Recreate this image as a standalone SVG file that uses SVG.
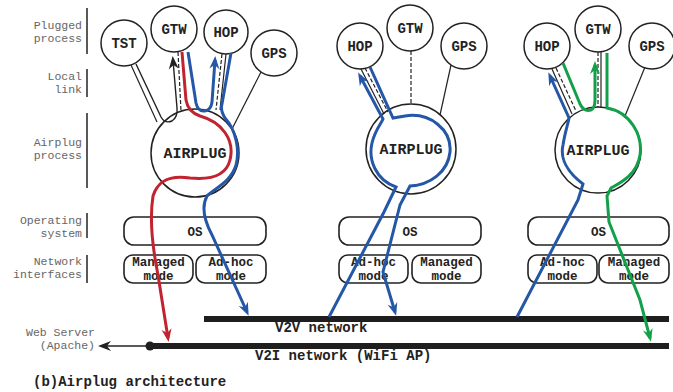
<svg xmlns="http://www.w3.org/2000/svg" width="673" height="392" viewBox="0 0 673 392">
<style>
.lbl{font-family:"Liberation Mono","Courier New",monospace;font-size:11.5px;fill:#666;text-anchor:end}
.bar{stroke:#222;stroke-width:1.5}
.nc{fill:#fff;stroke:#222;stroke-width:1.5}
.nt{font-family:"Liberation Mono","Courier New",monospace;font-size:14px;font-weight:bold;fill:#222;text-anchor:middle}
.ap{font-size:15px}
.box{fill:#fff;stroke:#222;stroke-width:1.6}
.bt{font-family:"Liberation Mono","Courier New",monospace;font-size:12.5px;font-weight:bold;fill:#222;text-anchor:middle}
.lk{stroke:#222;stroke-width:1.2;fill:none}
.dl{stroke:#222;stroke-width:1.2;fill:none;stroke-dasharray:4 2}
.fr{stroke:#c1232f;stroke-width:3;fill:none}
.fb{stroke:#2557a7;stroke-width:3;fill:none}
.fg{stroke:#12a04b;stroke-width:3;fill:none}
.fk{stroke:#222;stroke-width:1.4;fill:none}
.net{fill:#1e1e1e}
.cap{font-family:"Liberation Mono","Courier New",monospace;font-size:14px;font-weight:bold;fill:#222}
</style>
<defs>
<marker id="ar" markerUnits="userSpaceOnUse" markerWidth="16" markerHeight="12" viewBox="-10 -6 16 12" refX="0" refY="0" orient="auto"><path d="M-9,-5 L4,0 L-9,5 L-5,0 Z" fill="#c1232f"/></marker>
<marker id="ab" markerUnits="userSpaceOnUse" markerWidth="16" markerHeight="12" viewBox="-10 -6 16 12" refX="0" refY="0" orient="auto"><path d="M-9,-5 L4,0 L-9,5 L-5,0 Z" fill="#2557a7"/></marker>
<marker id="ag" markerUnits="userSpaceOnUse" markerWidth="16" markerHeight="12" viewBox="-10 -6 16 12" refX="0" refY="0" orient="auto"><path d="M-9,-5 L4,0 L-9,5 L-5,0 Z" fill="#12a04b"/></marker>
<marker id="ak" markerUnits="userSpaceOnUse" markerWidth="16" markerHeight="12" viewBox="-10 -6 16 12" refX="0" refY="0" orient="auto"><path d="M-9,-5 L4,0 L-9,5 L-5,0 Z" fill="#222"/></marker>
</defs>
<rect width="673" height="392" fill="#fff"/>

<g id="layer-labels">
<text class="lbl" x="82" y="29">Plugged</text><text class="lbl" x="82" y="42">process</text>
<line class="bar" x1="87" y1="8" x2="87" y2="54"/>
<text class="lbl" x="82" y="80">Local</text><text class="lbl" x="82" y="93">link</text>
<line class="bar" x1="87" y1="69" x2="87" y2="97"/>
<text class="lbl" x="82" y="146">Airplug</text><text class="lbl" x="82" y="159">process</text>
<line class="bar" x1="87" y1="113" x2="87" y2="188"/>
<text class="lbl" x="82" y="224">Operating</text><text class="lbl" x="82" y="237">system</text>
<line class="bar" x1="87" y1="213" x2="87" y2="238"/>
<text class="lbl" x="82" y="265">Network</text><text class="lbl" x="82" y="278">interfaces</text>
<line class="bar" x1="87" y1="255" x2="87" y2="283"/>
<text class="lbl" x="95" y="336">Web Server</text><text class="lbl" x="95" y="349">(Apache)</text>
</g>

<g id="g1-tst"><circle class="nc" cx="124" cy="43" r="23"/><text class="nt" x="124" y="48">TST</text></g>
<g id="g1-gtw"><circle class="nc" cx="174" cy="29" r="23"/><text class="nt" x="174" y="34">GTW</text></g>
<g id="g1-hop"><circle class="nc" cx="226" cy="32" r="22"/><text class="nt" x="226" y="37">HOP</text></g>
<g id="g1-gps"><circle class="nc" cx="274" cy="53" r="23"/><text class="nt" x="274" y="58">GPS</text></g>
<g id="g1-airplug"><circle class="nc" cx="195" cy="153" r="44"/><text class="nt ap" x="195" y="158">AIRPLUG</text></g>

<g id="g2-hop"><circle class="nc" cx="360" cy="46" r="23"/><text class="nt" x="360" y="51">HOP</text></g>
<g id="g2-gtw"><circle class="nc" cx="410" cy="28" r="23"/><text class="nt" x="410" y="33">GTW</text></g>
<g id="g2-gps"><circle class="nc" cx="464" cy="46" r="23"/><text class="nt" x="464" y="51">GPS</text></g>
<g id="g2-airplug"><circle class="nc" cx="411" cy="149" r="45"/><text class="nt ap" x="411" y="154">AIRPLUG</text></g>

<g id="g3-hop"><circle class="nc" cx="547" cy="46" r="23"/><text class="nt" x="547" y="51">HOP</text></g>
<g id="g3-gtw"><circle class="nc" cx="598" cy="29" r="23"/><text class="nt" x="598" y="34">GTW</text></g>
<g id="g3-gps"><circle class="nc" cx="652" cy="46" r="23"/><text class="nt" x="652" y="51">GPS</text></g>
<g id="g3-airplug"><circle class="nc" cx="598" cy="150" r="43"/><text class="nt ap" x="598" y="155">AIRPLUG</text></g>

<g id="g1-os"><rect class="box" x="124" y="217" width="142" height="28" rx="10"/><text class="bt" x="195" y="236">OS</text></g>
<g id="g1-managed"><rect class="box" x="124" y="255" width="69" height="28" rx="9"/><text class="bt" x="158.5" y="266">Managed</text><text class="bt" x="158.5" y="280">mode</text></g>
<g id="g1-adhoc"><rect class="box" x="196" y="255" width="70" height="28" rx="9"/><text class="bt" x="231" y="266">Ad-hoc</text><text class="bt" x="231" y="280">mode</text></g>

<g id="g2-os"><rect class="box" x="339" y="217" width="142" height="28" rx="10"/><text class="bt" x="410" y="236">OS</text></g>
<g id="g2-adhoc"><rect class="box" x="339" y="255" width="69" height="28" rx="9"/><text class="bt" x="373.5" y="266">Ad-hoc</text><text class="bt" x="373.5" y="280">mode</text></g>
<g id="g2-managed"><rect class="box" x="412" y="255" width="69" height="28" rx="9"/><text class="bt" x="446.5" y="266">Managed</text><text class="bt" x="446.5" y="280">mode</text></g>

<g id="g3-os"><rect class="box" x="528" y="217" width="141" height="28" rx="10"/><text class="bt" x="598.5" y="236">OS</text></g>
<g id="g3-adhoc"><rect class="box" x="528" y="255" width="69" height="28" rx="9"/><text class="bt" x="562.5" y="266">Ad-hoc</text><text class="bt" x="562.5" y="280">mode</text></g>
<g id="g3-managed"><rect class="box" x="599" y="255" width="70" height="28" rx="9"/><text class="bt" x="634" y="266">Managed</text><text class="bt" x="634" y="280">mode</text></g>

<g id="v2v-network"><rect class="net" x="204" y="316" width="465" height="6"/><text class="cap" x="275" y="332">V2V network</text></g>
<g id="v2i-network"><rect class="net" x="150" y="343" width="519" height="6"/><circle cx="150" cy="346" r="4.5" fill="#1e1e1e"/><text class="cap" x="255" y="360">V2I network (WiFi AP)</text></g>

<g id="connectors">
<!-- group 1 links -->
<line class="lk" x1="131" y1="65" x2="157" y2="122"/>
<line class="dl" x1="178" y1="52" x2="181" y2="111"/>
<line class="dl" x1="222" y1="54" x2="216" y2="110"/>
<line class="lk" x1="226" y1="54" x2="220" y2="110"/>
<line class="lk" x1="261" y1="72" x2="232" y2="129"/>
<!-- group 2 links -->
<line class="lk" x1="361" y1="69" x2="384" y2="114"/>
<line class="dl" x1="365" y1="68" x2="388" y2="112"/>
<line class="dl" x1="411" y1="51" x2="411" y2="104"/>
<line class="lk" x1="451" y1="65" x2="440" y2="115"/>
<!-- group 3 links -->
<line class="lk" x1="552" y1="69" x2="572" y2="114"/>
<line class="dl" x1="556" y1="68" x2="576" y2="111"/>
<line class="dl" x1="598" y1="52" x2="598" y2="107"/>
<line class="lk" x1="601" y1="52" x2="601" y2="107"/>
<line class="lk" x1="645" y1="67" x2="625" y2="116"/>

<!-- group 1 flows -->
<path class="fk" d="M136,64 L161,117 Q165,124 172,121 Q178,117 177,108 L173,60" marker-end="url(#ak)"/>
<path class="fr" d="M182,52 L186,100 Q188,112 200,116 C222,122 235,140 230,160 C226,176 210,180 190,178 C170,175 158,180 153,196 C150,215 152,245 158,275 L168,338" marker-end="url(#ar)"/>
<path class="fb" d="M188,52 L196,103 Q198,112 205,111 Q211,110 212,102 L215,60" marker-end="url(#ab)"/>
<path class="fb" d="M231,53 L222,104 Q220,110 225,118 C236,130 240,150 236,165 C231,182 215,188 207,196 C202,205 203,218 212,235 L247,312" marker-end="url(#ab)"/>
<!-- group 2 flows -->
<path class="fb" d="M329,317 L384,212 L396,187 C376,180 368,160 372,143 C375,130 381,124 383,119 L360,76" marker-end="url(#ab)"/>
<path class="fb" d="M370,67 L393,118 L405,116 C430,112 452,130 450,152 C448,172 430,185 410,186 L400,205 L383,272 L395,312" marker-end="url(#ab)"/>
<!-- group 3 flows -->
<path class="fb" d="M517,317 L578,200 L583,184 C567,172 560,158 563,145 C565,132 568,124 569,118 L550,76" marker-end="url(#ab)"/>
<path class="fg" d="M563,63 L580,104 Q584,112 591,110 Q595,108 595,100 L595,65" marker-end="url(#ag)"/>
<path class="fg" d="M607,53 L607,108 C630,112 643,135 640,155 C637,175 620,183 611,188 L607,196 L609,222 L640,300 L650,338" marker-end="url(#ag)"/>

<!-- web server link -->
<line x1="150" y1="346" x2="102" y2="346" stroke="#222" stroke-width="1.5" marker-end="url(#ak)"/>
</g>

<text class="cap" x="33" y="386">(b)Airplug architecture</text>
</svg>
